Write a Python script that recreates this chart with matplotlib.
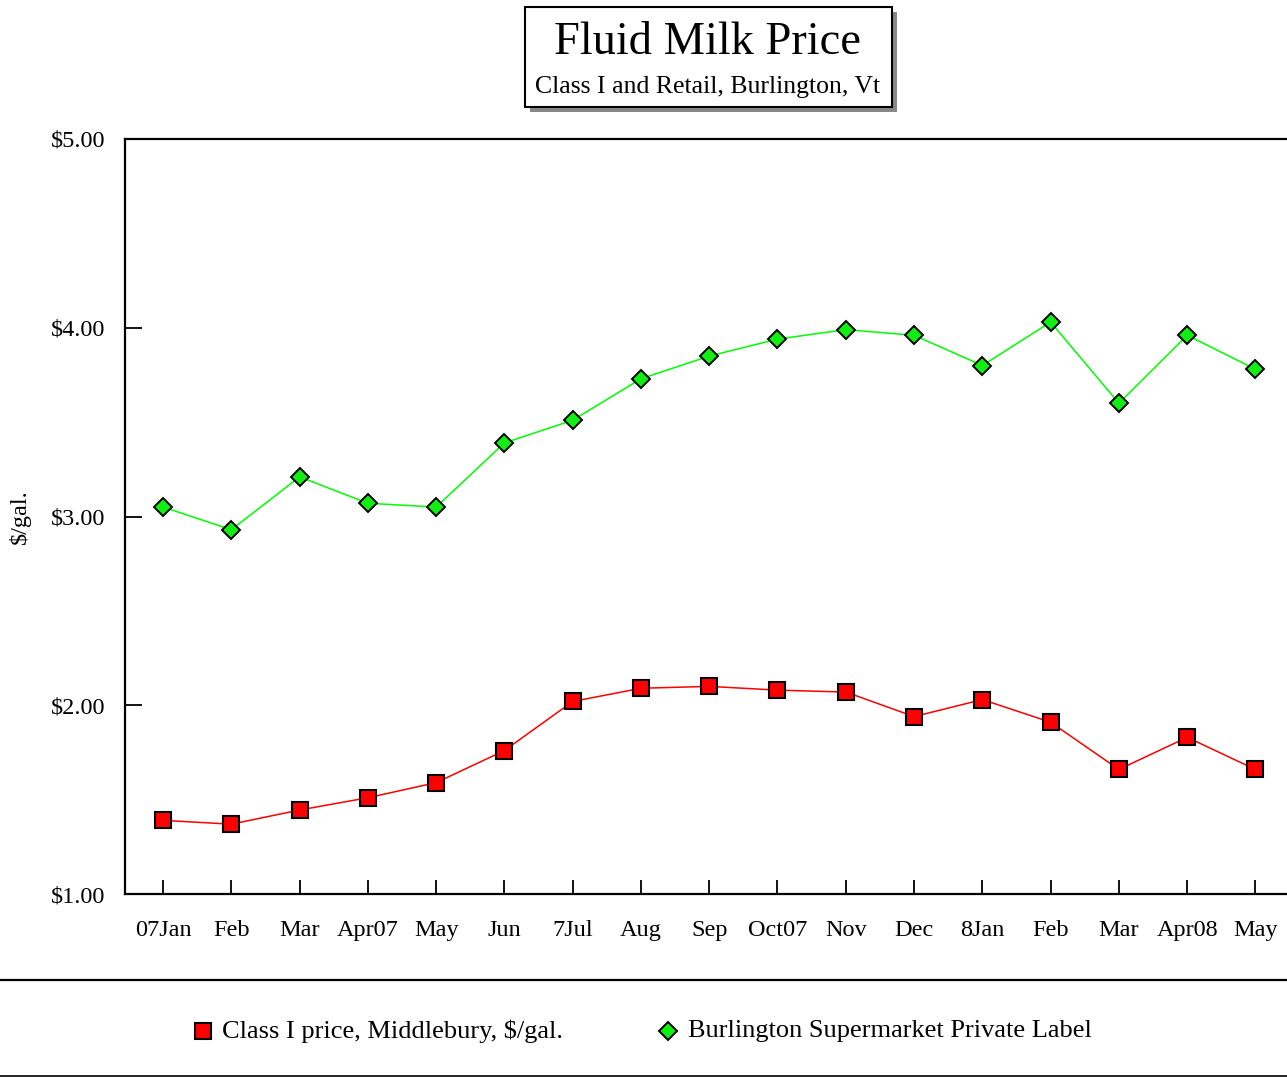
import matplotlib
matplotlib.use("Agg")
import matplotlib.pyplot as plt
from matplotlib.lines import Line2D
from matplotlib.patches import Rectangle

plt.rcParams["font.family"] = ["Liberation Serif", "DejaVu Serif"]

months = ["07Jan", "Feb", "Mar", "Apr07", "May", "Jun", "7Jul", "Aug", "Sep",
          "Oct07", "Nov", "Dec", "8Jan", "Feb", "Mar", "Apr08", "May"]
class1_price = [1.39, 1.37, 1.445, 1.51, 1.59, 1.76, 2.02, 2.09, 2.10,
                2.08, 2.07, 1.94, 2.03, 1.91, 1.66, 1.83, 1.66]
retail_price = [3.05, 2.93, 3.21, 3.07, 3.05, 3.39, 3.51, 3.73, 3.85,
                3.94, 3.99, 3.96, 3.80, 4.03, 3.60, 3.96, 3.78]
series_names = ["Class I price, Middlebury, $/gal.",
                "Burlington Supermarket Private Label"]
yticks = [1.0, 2.0, 3.0, 4.0, 5.0]

RED_STYLE = dict(marker="s", ms=11.5, mfc="#ff0000", mec="#000000", mew=1.5)
GREEN_STYLE = dict(marker="D", ms=8.8, mfc="#11ee11", mec="#000000", mew=1.4)

W, H = 1287, 1078
fig = plt.figure(figsize=(W / 100, H / 100), dpi=100)
ax = fig.add_axes([125 / W, 1 - 894 / H, 1170 / W, 755 / H])

x = list(range(len(months)))
ax.plot(x, class1_price, "-", color="#ff0000", lw=1.1, zorder=3, **RED_STYLE)
ax.plot(x, retail_price, "-", color="#00ff00", lw=1.1, zorder=3, **GREEN_STYLE)

ax.set_xlim(-0.557, 16.58)
ax.set_ylim(1.0, 5.0)
ax.set_xticks(x)
ax.set_xticklabels(months)
ax.set_yticks(yticks)
ax.set_yticklabels([f"${v:.2f}" for v in yticks])
ax.tick_params(axis="x", direction="in", length=10, width=1.3, pad=19,
               labelsize=17.5)
ax.tick_params(axis="y", direction="in", length=12, width=1.3, pad=14,
               labelsize=17.5)
for side in ("left", "bottom", "top"):
    ax.spines[side].set_linewidth(1.6)
ax.spines["right"].set_visible(False)

fig.text(20 / W, 1 - 517 / H, "$/gal.", rotation=90, ha="center",
         va="center", fontsize=17.5)

# boxed title with drop shadow
bx, by, bw, bh = 525 / W, 1 - 107 / H, 367 / W, 100 / H
fig.add_artist(Rectangle((bx + 5 / W, by - 5 / H), bw, bh,
                         transform=fig.transFigure, facecolor="#888888",
                         edgecolor="none", zorder=1))
fig.add_artist(Rectangle((bx, by), bw, bh, transform=fig.transFigure,
                         facecolor="white", edgecolor="black", lw=1.5,
                         zorder=2))
fig.text(708 / W, 1 - 43 / H, "Fluid Milk Price", ha="center", va="center",
         fontsize=33.5, zorder=3)
fig.text(708 / W, 1 - 87 / H, "Class I and Retail, Burlington, Vt",
         ha="center", va="center", fontsize=18.5, zorder=3)

# legend strip between two rules
fig.add_artist(Line2D([0, 1], [1 - 980 / H, 1 - 980 / H],
                      transform=fig.transFigure, color="black", lw=1.6))
fig.add_artist(Line2D([0, 1], [1 - 1076 / H, 1 - 1076 / H],
                      transform=fig.transFigure, color="black", lw=1.2))
ly = 1 - 1031 / H
for (mx, tx), name, style in zip([(203, 222), (668, 688)], series_names,
                                 [RED_STYLE, GREEN_STYLE]):
    fig.add_artist(Line2D([mx / W], [ly], transform=fig.transFigure,
                          ls="none", **style))
    fig.text(tx / W, ly, name, ha="left", va="center", fontsize=19)

fig.savefig("out.png", dpi=100)
